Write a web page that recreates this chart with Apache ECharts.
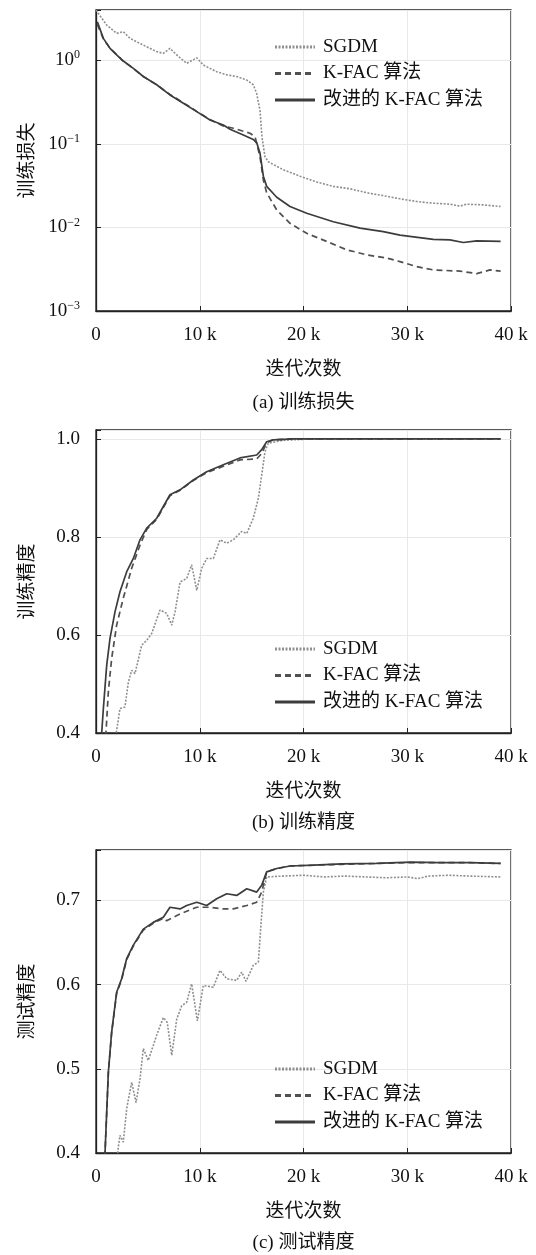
<!DOCTYPE html>
<html>
<head>
<meta charset="utf-8">
<script src="https://cdn.jsdelivr.net/npm/echarts@6/dist/echarts.min.js"></script>
<style>
html,body{margin:0;padding:0;background:#fff;}
#c{width:536px;height:1255px;}
</style>
</head>
<body>
<div id="c"></div>
<script>
// ---------- Data ----------
const seriesNames = ['SGDM', 'K-FAC 算法', '改进的 K-FAC 算法'];
const panelCaptions = ['(a) 训练损失', '(b) 训练精度', '(c) 测试精度'];
const yAxisNames = ['训练损失', '训练精度', '测试精度'];
const xAxisName = '迭代次数';
const xTicks = [0, 10000, 20000, 30000, 40000];

// (a) training loss
const lossSgdmIter = [0, 225, 1030, 1990, 2630, 3280, 4560, 5850, 6490, 7130, 7780, 8740, 9710, 10340, 11630, 12600, 13560, 14530, 15160, 15490, 15810, 16000, 16290, 16610, 18050, 19660, 21270, 22870, 24480, 26090, 27690, 29300, 30910, 32510, 34120, 35090, 35730, 37330, 39000];
const lossSgdm = [4.0, 3.65, 2.64, 2.10, 2.20, 1.83, 1.52, 1.27, 1.21, 1.39, 1.16, 0.92, 1.07, 0.88, 0.73, 0.67, 0.64, 0.58, 0.51, 0.40, 0.25, 0.12, 0.07, 0.061, 0.049, 0.041, 0.035, 0.031, 0.029, 0.026, 0.024, 0.022, 0.0204, 0.0195, 0.019, 0.018, 0.019, 0.0186, 0.0178];
const lossKfacIter = [130, 710, 1350, 1990, 2630, 3600, 4560, 5850, 7130, 8420, 9710, 10990, 12270, 13230, 14840, 15330, 15810, 16130, 16450, 17420, 18700, 20310, 22240, 24160, 26090, 28020, 29300, 30910, 32510, 35090, 36700, 37980, 39000];
const lossKfac = [2.7, 1.80, 1.40, 1.17, 0.98, 0.80, 0.64, 0.51, 0.39, 0.31, 0.245, 0.195, 0.164, 0.154, 0.134, 0.122, 0.070, 0.037, 0.026, 0.0162, 0.0112, 0.0085, 0.0068, 0.0054, 0.0047, 0.0043, 0.0039, 0.0034, 0.0031, 0.0030, 0.0028, 0.0031, 0.0030];
const lossImprovedIter = [130, 710, 1350, 1990, 2630, 3600, 4560, 5850, 7130, 8420, 9710, 10990, 12270, 12920, 14200, 15160, 15490, 15810, 16130, 16450, 17420, 18700, 20310, 22870, 25450, 27690, 29300, 32510, 34120, 35400, 36700, 39000];
const lossImproved = [2.9, 1.83, 1.39, 1.16, 0.98, 0.80, 0.64, 0.51, 0.385, 0.306, 0.243, 0.193, 0.168, 0.150, 0.128, 0.113, 0.103, 0.077, 0.041, 0.031, 0.023, 0.0178, 0.0148, 0.0117, 0.0098, 0.0089, 0.0081, 0.0072, 0.0071, 0.0066, 0.0069, 0.0068];

// (b) training accuracy
const accSgdmIter = [1500, 1990, 2310, 2790, 3120, 3440, 3760, 4400, 4890, 5370, 6170, 6810, 7300, 7620, 8100, 8740, 9220, 9710, 10190, 10670, 11310, 11950, 12600, 13230, 14040, 14530, 15160, 15650, 15970, 16290, 16610, 18000, 20000, 25000, 30000, 39000];
const accSgdm = [0.33, 0.405, 0.45, 0.453, 0.504, 0.528, 0.521, 0.579, 0.589, 0.603, 0.651, 0.644, 0.62, 0.647, 0.708, 0.715, 0.743, 0.691, 0.736, 0.756, 0.756, 0.794, 0.787, 0.794, 0.811, 0.807, 0.838, 0.879, 0.926, 0.974, 0.991, 0.997, 0.999, 1.0, 1.0, 1.0];
const accKfacIter = [600, 960, 1190, 1510, 1990, 2630, 3440, 4240, 4890, 5850, 7130, 8100, 9380, 10670, 12270, 13880, 15490, 15970, 16450, 17090, 19000, 25000, 39000];
const accKfac = [0.25, 0.40, 0.484, 0.552, 0.62, 0.675, 0.736, 0.783, 0.815, 0.836, 0.884, 0.895, 0.915, 0.931, 0.944, 0.957, 0.959, 0.97, 0.992, 0.998, 1.0, 1.0, 1.0];
const accImprovedIter = [300, 550, 710, 1030, 1350, 1830, 2310, 2960, 3600, 4240, 4890, 5850, 7130, 8100, 9380, 10670, 12270, 13880, 15490, 15970, 16450, 17090, 19000, 25000, 39000];
const accImproved = [0.25, 0.40, 0.45, 0.538, 0.593, 0.647, 0.688, 0.729, 0.756, 0.794, 0.818, 0.838, 0.886, 0.896, 0.916, 0.933, 0.947, 0.961, 0.967, 0.978, 0.994, 0.998, 1.0, 1.0, 1.0];

// (c) test accuracy
const testSgdmIter = [1700, 2150, 2310, 2630, 2960, 3440, 3860, 4240, 4560, 5040, 5850, 6490, 6870, 7300, 7780, 8260, 8740, 9220, 9770, 10340, 11310, 11950, 12600, 13560, 14040, 14460, 15160, 15650, 15870, 16130, 16450, 18000, 20000, 22000, 24000, 26000, 28000, 30000, 31000, 32000, 34000, 36000, 39000];
const testSgdm = [0.35, 0.407, 0.421, 0.413, 0.453, 0.484, 0.46, 0.488, 0.524, 0.51, 0.54, 0.561, 0.555, 0.516, 0.559, 0.575, 0.579, 0.601, 0.557, 0.599, 0.597, 0.617, 0.607, 0.605, 0.615, 0.604, 0.623, 0.627, 0.666, 0.71, 0.728, 0.729, 0.730, 0.728, 0.729, 0.728, 0.727, 0.728, 0.726, 0.729, 0.730, 0.729, 0.728];
const testKfacIter = [500, 870, 1190, 1510, 1990, 2470, 2960, 3600, 4560, 5520, 6490, 6810, 8100, 9710, 10990, 12270, 13230, 14530, 15490, 15970, 16450, 17420, 18700, 21000, 23700, 27000, 30300, 33000, 36000, 39000];
const testKfac = [0.3, 0.40, 0.495, 0.543, 0.590, 0.606, 0.630, 0.646, 0.665, 0.673, 0.679, 0.676, 0.684, 0.692, 0.692, 0.690, 0.690, 0.694, 0.698, 0.71, 0.734, 0.738, 0.741, 0.742, 0.743, 0.744, 0.745, 0.745, 0.745, 0.744];
const testImprovedIter = [500, 870, 1190, 1510, 1990, 2470, 2960, 3600, 4560, 5520, 6490, 7130, 8100, 8740, 9710, 10670, 11630, 12600, 13560, 14530, 15490, 15970, 16450, 17420, 18700, 21000, 23700, 27000, 30300, 33000, 36000, 39000];
const testImproved = [0.3, 0.40, 0.496, 0.544, 0.591, 0.607, 0.631, 0.647, 0.666, 0.674, 0.680, 0.692, 0.690, 0.694, 0.698, 0.694, 0.702, 0.708, 0.706, 0.714, 0.71, 0.718, 0.734, 0.738, 0.741, 0.742, 0.7436, 0.744, 0.7455, 0.745, 0.745, 0.744];

// ---------- Chart ----------
const zip = (xs, ys) => xs.map((x, i) => [x, ys[i]]);
const FONT = '"Liberation Serif", "Times New Roman", "Noto Sans CJK SC", serif';
const TXT = '#111';

const grids = [
  { left: 96, top: 10, width: 415, height: 301 },
  { left: 96, top: 430, width: 415, height: 303 },
  { left: 96, top: 850, width: 415, height: 303 }
].map(g => Object.assign(g, { show: true, borderColor: '#222', borderWidth: 1.3, backgroundColor: 'transparent', containLabel: false, outerBoundsMode: 'none' }));

const xAxes = [0, 1, 2].map(i => ({
  type: 'value', gridIndex: i, min: 0, max: 40000, interval: 10000,
  name: xAxisName, nameLocation: 'middle', nameGap: 50,
  nameTextStyle: { fontSize: 19, fontFamily: FONT, color: TXT },
  axisLine: { show: true, lineStyle: { color: '#222', width: 1.3 } },
  axisTick: { show: true, inside: true, length: 5, lineStyle: { color: '#222' } },
  axisLabel: { margin: 15, fontSize: 19, fontFamily: FONT, color: TXT,
    formatter: v => (v === 0 ? '0' : (v / 1000) + ' k') },
  splitLine: { show: true, lineStyle: { color: '#e8e8e8', width: 1 } }
}));

function supFmt(v) {
  const l = Math.log10(v);
  const e = Math.round(l);
  if (Math.abs(l - e) > 1e-6) return '';
  const s = e < 0 ? '\u2212' + (-e) : String(e);
  return '{b|10}{s|' + s + '}';
}
function stepFmt(step) {
  return v => (Math.abs(v / step - Math.round(v / step)) < 1e-6 ? v.toFixed(1) : '');
}

const yCommon = (i) => ({
  gridIndex: i,
  name: yAxisNames[i], nameLocation: 'middle', nameGap: 58, nameRotate: 90,
  nameTextStyle: { fontSize: 19, fontFamily: FONT, color: TXT },
  axisLine: { show: true, lineStyle: { color: '#222', width: 1.3 } },
  axisTick: { show: true, inside: true, length: 5, lineStyle: { color: '#222' } },
  splitLine: { show: true, lineStyle: { color: '#e8e8e8', width: 1 } }
});

const yAxes = [
  Object.assign(yCommon(0), {
    type: 'log', logBase: 10, min: 0.001, max: 4,
    axisLabel: { margin: 16, fontFamily: FONT, color: TXT, formatter: supFmt,
      rich: { b: { fontSize: 19, fontFamily: FONT, color: TXT, lineHeight: 22 },
              s: { fontSize: 12, fontFamily: FONT, color: TXT, verticalAlign: 'top', lineHeight: 12 } } }
  }),
  Object.assign(yCommon(1), {
    type: 'value', min: 0.4, max: 1.018, interval: 0.2,
    axisLabel: { margin: 16, fontSize: 19, fontFamily: FONT, color: TXT, formatter: stepFmt(0.2) }
  }),
  Object.assign(yCommon(2), {
    type: 'value', min: 0.4, max: 0.76, interval: 0.1,
    axisLabel: { margin: 16, fontSize: 19, fontFamily: FONT, color: TXT, formatter: stepFmt(0.1) }
  })
];

const styles = [
  { color: '#8f8f8f', width: 1.6, type: [2, 1.5] },
  { color: '#505050', width: 1.7, type: [6, 4] },
  { color: '#3c3c3c', width: 1.7, type: 'solid' }
];

const panelData = [
  [zip(lossSgdmIter, lossSgdm), zip(lossKfacIter, lossKfac), zip(lossImprovedIter, lossImproved)],
  [zip(accSgdmIter, accSgdm), zip(accKfacIter, accKfac), zip(accImprovedIter, accImproved)],
  [zip(testSgdmIter, testSgdm), zip(testKfacIter, testKfac), zip(testImprovedIter, testImproved)]
];

const series = [];
panelData.forEach((sets, p) => {
  sets.forEach((d, k) => {
    series.push({
      type: 'line', name: seriesNames[k], xAxisIndex: p, yAxisIndex: p,
      data: d, symbol: 'none', smooth: false, clip: true,
      lineStyle: Object.assign({}, styles[k]), itemStyle: { color: styles[k].color },
      z: k === 0 ? 2 : 3
    });
  });
});

const legendTops = [37.5, 639.5, 1059.5];
const legends = legendTops.map(t => ({
  orient: 'vertical', left: 273.5, top: t, padding: 0,
  itemWidth: 40, itemHeight: 19, itemGap: 7.5,
  selectedMode: false, data: seriesNames,
  lineStyle: { width: 3 },
  itemStyle: { opacity: 0, borderWidth: 0 },
  textStyle: { fontSize: 19, fontFamily: FONT, color: TXT, lineHeight: 19, padding: [0, 0, 0, 3] }
}));

const captionY = [403, 823, 1243];

const chart = echarts.init(document.getElementById('c'), null, { renderer: 'canvas' });
chart.setOption({
  animation: false,
  backgroundColor: '#fff',
  grid: grids, xAxis: xAxes, yAxis: yAxes, series: series, legend: legends,
  graphic: captionY.map((y, i) => ({
    type: 'text', x: 303.5, y: y,
    style: { text: panelCaptions[i], font: '19px ' + FONT, fill: TXT, align: 'center', verticalAlign: 'middle' }
  }))
});
</script>
</body>
</html>
